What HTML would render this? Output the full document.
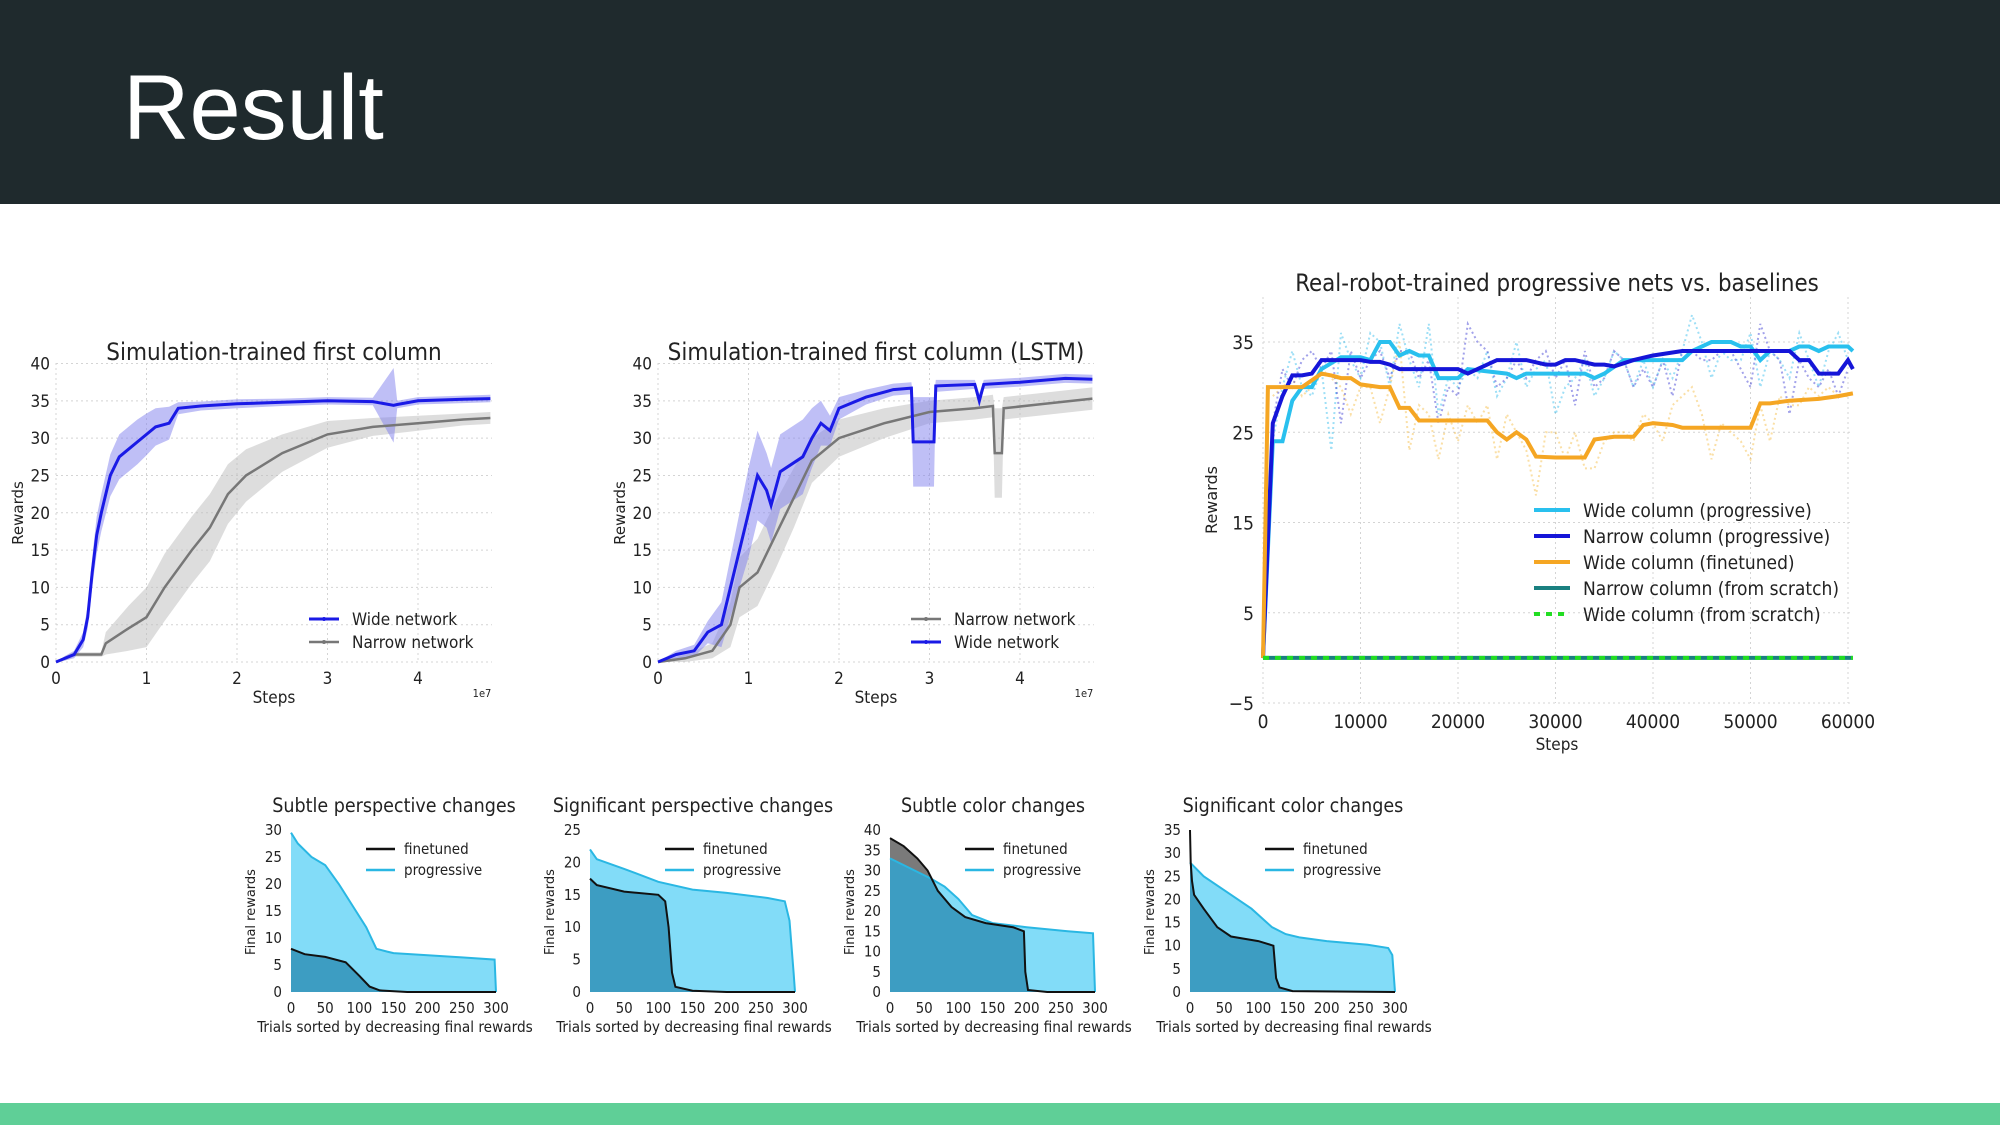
<!DOCTYPE html>
<html><head><meta charset="utf-8">
<style>
html,body{margin:0;padding:0;width:2000px;height:1125px;overflow:hidden;background:#fff;font-family:"DejaVu Sans Condensed","DejaVu Sans","Liberation Sans",sans-serif;}
#hdr{position:absolute;left:0;top:0;width:2000px;height:204px;background:#1f2a2d;}
#ttl{position:absolute;left:123px;top:56px;font-family:"Liberation Sans",sans-serif;font-size:92px;color:#fff;font-weight:normal;}
#foot{position:absolute;left:0;top:1103px;width:2000px;height:22px;background:#5fcf97;}
svg{position:absolute;left:0;top:0;}
</style></head><body>
<div id="hdr"><div id="ttl">Result</div></div>
<div id="foot"></div>
<svg id="svg" width="2000" height="1125"></svg>
<script>
// ---------- chart 1 data (x in 1e7 steps) ----------
const c1WideX=[0,0.1,0.2,0.3,0.35,0.4,0.45,0.5,0.6,0.7,0.8,0.9,1.0,1.1,1.25,1.35,1.6,2,2.5,3,3.5,3.73,3.77,4,4.5,4.8];
const c1WideY=[0,0.5,1,3,6,12,17,20,25,27.5,28.5,29.5,30.5,31.5,32,34,34.3,34.6,34.8,35,34.9,34.4,34.5,35,35.2,35.3];
const c1WideS=[0,0.3,0.5,1,1.5,2,2.5,2.5,2.8,3,3,3,2.8,2.5,2.2,0.8,0.6,0.6,0.5,0.5,0.5,5,0.5,0.5,0.5,0.5];
const c1NarX=[0,0.1,0.2,0.5,0.55,0.8,1,1.2,1.5,1.7,1.9,2.1,2.5,3,3.5,4,4.5,4.8];
const c1NarY=[0,0.5,1,1,2.5,4.5,6,10,15,18,22.5,25,28,30.5,31.5,32,32.5,32.7];
const c1NarS=[0,0.3,0.3,0.3,1.5,3,4,4.5,4.5,4.5,4,3.5,2.5,1.8,1.2,1,0.8,0.8];
// ---------- chart 2 data ----------
const c2WideX=[0,0.2,0.4,0.55,0.7,0.9,1,1.1,1.2,1.25,1.35,1.6,1.7,1.8,1.9,2,2.3,2.6,2.8,2.82,3.05,3.07,3.5,3.55,3.6,4,4.5,4.8];
const c2WideY=[0,1,1.5,4,5,15,20,25,23,21,25.5,27.5,30,32,31,34,35.5,36.5,36.7,29.5,29.5,37,37.2,35,37.2,37.5,38,37.9];
const c2WideS=[0,0.5,0.8,1.5,3,5,6,6,5,5,5,5,4,3,2,1.5,1,0.8,0.8,6,6,0.8,0.6,1,0.6,0.6,0.6,0.6];
const c2NarX=[0,0.3,0.6,0.8,0.9,1.1,1.3,1.5,1.7,2,2.5,3,3.5,3.7,3.72,3.8,3.82,4.2,4.8];
const c2NarY=[0,0.5,1.5,5,10,12,17,22,27,30,32,33.5,34,34.3,28,28,34,34.5,35.3];
const c2NarS=[0,0.5,1,3,4,4.5,4.5,4,3,2.5,2,1.5,1.5,1.5,6,6,1.5,1.5,1.5];
// ---------- chart 3 data ----------
const c3WideX=[0,1000,2000,3000,4000,5000,6000,8000,10000,11000,12000,13000,14000,15000,16000,17000,18000,20000,21000,25000,26000,27000,33000,34000,35000,37000,40000,43000,44000,46000,48000,49000,50000,51000,52000,54000,55000,56000,57000,58000,60000,60500];
const c3WideY=[0,24,24,28.5,30,30,32,33.3,33.3,33,35,35,33.5,34,33.5,33.5,31,31,32,31.5,31,31.5,31.5,31,31.5,33,33,33,34,35,35,34.5,34.5,33,34,34,34.5,34.5,34,34.5,34.5,34];
const c3NarX=[0,1000,2000,3000,4000,5000,6000,10000,11000,12000,13000,14000,20000,21000,22000,24000,27000,29000,30000,31000,32000,34000,35000,36000,38000,40000,43000,50000,54000,55000,56000,57000,59000,60000,60500];
const c3NarY=[0,26,29,31.3,31.3,31.5,33,33,32.8,32.8,32.5,32,32,31.5,32,33,33,32.5,32.5,33,33,32.5,32.5,32.3,33,33.5,34,34,34,33,33,31.5,31.5,33,32];
const c3FinX=[0,500,2000,4000,6000,7000,8000,9000,10000,12000,13000,14000,15000,16000,23000,24000,25000,26000,27000,28000,30000,33000,34000,36000,38000,39000,40000,42000,43000,50000,51000,52000,54000,57000,59000,60500];
const c3FinY=[0,30,30,30,31.5,31.3,31,31,30.3,30,30,27.7,27.7,26.3,26.3,25,24.2,25,24.2,22.3,22.2,22.2,24.2,24.5,24.5,25.8,26,25.8,25.5,25.5,28.2,28.2,28.5,28.7,29,29.3];
const c3RawX=[1000,2000,3000,4000,5000,6000,7000,8000,9000,10000,11000,12000,13000,14000,15000,16000,17000,18000,19000,20000,21000,22000,23000,24000,25000,26000,27000,28000,29000,30000,31000,32000,33000,34000,35000,36000,37000,38000,39000,40000,41000,42000,43000,44000,45000,46000,47000,48000,49000,50000,51000,52000,53000,54000,55000,56000,57000,58000,59000,60000];
const c3RawWide=[24,30,34,30,29,32,23,36,33,31,36,35,30,37,33,30,37,27,31,30,32,31,34,29,31,35,30,32,33,27,30,31,33,29,31,34,33,30,33,30,33,31,34,38,35,31,34,33,33,36,30,34,33,31,36,33,30,34,36,33];
const c3RawNar=[26,32,30,33,34,32,34,26,34,31,33,34,31,34,34,31,33,26,30,29,37,35,34,30,31,33,31,33,34,31,33,28,34,30,31,34,33,30,32,30,33,29,34,34,33,33,34,34,32,30,37,34,33,27,33,31,30,32,29,32];
const c3RawFin=[29,30,31,29,30,32,31,30,27,30,30,26,30,35,23,28,27,22,27,24,28,26,28,22,27,25,23,18,25,25,22,25,21,21,24,25,25,24,27,26,24,28,29,30,27,22,26,25,24,22,28,24,29,28,28,30,29,30,29,29];
// ---------- bottom charts data (trial index 0..300) ----------
const bAProgX=[0,10,30,50,70,90,110,125,140,150,200,250,298,300];
const bAProgY=[29.5,27.5,25,23.5,20,16,12,8,7.5,7.2,6.8,6.4,6,0];
const bAFinX=[0,20,50,80,100,115,130,170,300];
const bAFinY=[8,7,6.5,5.5,3,1,0.3,0,0];
const bBProgX=[0,10,50,100,150,200,260,285,292,298,300];
const bBProgY=[22,20.5,19,17,15.8,15.3,14.5,14,11,3,0];
const bBFinX=[0,10,50,100,110,115,120,125,150,200,300];
const bBFinY=[17.5,16.5,15.5,15,14,10,3,0.8,0.2,0,0];
const bCProgX=[0,30,60,80,100,120,150,200,260,297,300];
const bCProgY=[33,30.5,28,26,23,19,17,16,15,14.5,0];
const bCFinX=[0,20,40,55,70,90,110,140,180,196,198,202,230,300];
const bCFinY=[38,36,33,30,25,21,18.5,17,16,15,5,0.5,0,0];
const bDProgX=[0,20,50,90,120,140,160,200,260,290,296,300];
const bDProgY=[28,25,22,18,14,12.5,11.8,11,10.2,9.5,8,0];
const bDFinX=[0,1,3,6,20,40,60,100,122,126,131,150,300];
const bDFinY=[35,28,24,21,18,14,12,11,10,3,1,0.2,0];
const c1YTicks=[0,5,10,15,20,25,30,35,40];
const c1XTicks=[0,1,2,3,4];
const c3YTicks=[-5,5,15,25,35];
const c3XTicks=[0,10000,20000,30000,40000,50000,60000];
const bXTicks=[0,50,100,150,200,250,300];

const NS='http://www.w3.org/2000/svg';
const svg=document.getElementById('svg');
function el(tag,attrs,parent){const e=document.createElementNS(NS,tag);for(const k in attrs)e.setAttribute(k,attrs[k]);(parent||svg).appendChild(e);return e;}
function txt(s,x,y,size,anchor,parent,fill,family){const t=el('text',{x:x,y:y,'font-size':size,'text-anchor':anchor||'middle',fill:fill||'#222'},parent);if(family)t.setAttribute('font-family',family);t.textContent=s;return t;}
function lin(a0,a1,p0,p1){return v=>p0+(v-a0)*(p1-p0)/(a1-a0);}
function pathD(xs,ys,sx,sy){return xs.map((x,i)=>(i?'L':'M')+sx(x).toFixed(1)+','+sy(ys[i]).toFixed(1)).join('');}
function bandD(xs,ys,ss,sx,sy){let d='';xs.forEach((x,i)=>{d+=(i?'L':'M')+sx(x).toFixed(1)+','+sy(ys[i]+ss[i]).toFixed(1);});for(let i=xs.length-1;i>=0;i--)d+='L'+sx(xs[i]).toFixed(1)+','+sy(Math.max(0,ys[i]-ss[i])).toFixed(1);return d+'Z';}
function areaD(xs,ys,sx,sy){return pathD(xs,ys,sx,sy)+'L'+sx(xs[xs.length-1]).toFixed(1)+','+sy(0).toFixed(1)+'L'+sx(xs[0]).toFixed(1)+','+sy(0).toFixed(1)+'Z';}

// ===== Chart 1 & 2 =====
function simChart(name,ox,title,series,legendOrder){
  const g=el('g',{});
  
  
  const sx=lin(0,1,ox,ox+90.5), sy=lin(0,40,662,363.5);
  const right=ox+436;
  c1YTicks.forEach(v=>{const l=el('line',{x1:ox,x2:right,y1:sy(v),y2:sy(v),stroke:'#d4d4d4','stroke-dasharray':'2,3'},g);
    const t=txt(String(v),ox-6,sy(v)+6,17,'end',g);});
  c1XTicks.forEach(v=>{const l=el('line',{x1:sx(v),x2:sx(v),y1:363,y2:662,stroke:'#d4d4d4','stroke-dasharray':'2,3'},g);
    const t=txt(String(v),sx(v),684,17,'middle',g);});
  series.forEach(s=>{
    const b=el('path',{d:bandD(s.x,s.y,s.s,sx,sy),fill:s.band,'fill-opacity':0.5,stroke:'none'},g);
    
  });
  series.forEach(s=>{
    const p=el('path',{d:pathD(s.x,s.y,sx,sy),fill:'none',stroke:s.col,'stroke-width':s.w},g);
    
  });
  const tt=txt(title,ox+218,360,24,'middle',g);
  const yl=txt('Rewards',0,0,15,'middle',g,'#222','DejaVu Sans');yl.setAttribute('transform','translate('+(ox-33)+',513) rotate(-90)');
  const xl=txt('Steps',ox+218,703,17,'middle',g);
  const ex=txt('1e7',ox+426,697,11,'middle',g);
  legendOrder.forEach((s,i)=>{
    const y=619+i*23;
    const lg=el('g',{},g);
    el('line',{x1:ox+253,x2:ox+283,y1:y,y2:y,stroke:s.col,'stroke-width':s.w},lg);
    el('circle',{cx:ox+268,cy:y,r:2,fill:s.col},lg);
    txt(s.label,ox+296,y+6,17,'start',lg);
  });
}
const c1w={key:'wide-network',x:c1WideX,y:c1WideY,s:c1WideS,col:'#1a1ae6',band:'#8080ee',w:3,label:'Wide network'};
const c1n={key:'narrow-network',x:c1NarX,y:c1NarY,s:c1NarS,col:'#777',band:'#bbb',w:2.5,label:'Narrow network'};
simChart('chart-simulation-first-column',56,'Simulation-trained first column',[c1n,c1w],[c1w,c1n]);
const c2w={key:'wide-network',x:c2WideX,y:c2WideY,s:c2WideS,col:'#1a1ae6',band:'#8080ee',w:3,label:'Wide network'};
const c2n={key:'narrow-network',x:c2NarX,y:c2NarY,s:c2NarS,col:'#777',band:'#bbb',w:2.5,label:'Narrow network'};
simChart('chart-simulation-lstm',658,'Simulation-trained first column (LSTM)',[c2n,c2w],[c2n,c2w]);

// ===== Chart 3 =====
(function(){
  const g=el('g',{});
  
  
  const sx=lin(0,60000,1263,1848), sy=lin(-5,35,703,342);
  c3YTicks.forEach(v=>{const l=el('line',{x1:1263,x2:1853,y1:sy(v),y2:sy(v),stroke:'#d4d4d4','stroke-dasharray':'2,3'},g);
    const t=txt(v<0?'\u2212'+(-v):String(v),1254,sy(v)+7,19,'end',g);});
  c3XTicks.forEach(v=>{const l=el('line',{x1:sx(v),x2:sx(v),y1:297,y2:703,stroke:'#d4d4d4','stroke-dasharray':'2,3'},g);
    const t=txt(String(v),sx(v),728,19,'middle',g);});
  [[c3RawFin,'#f5b73a','raw-finetuned'],[c3RawWide,'#29b9ea','raw-wide-progressive'],[c3RawNar,'#3030d0','raw-narrow-progressive']].forEach(r=>{
    const p=el('path',{d:pathD(c3RawX,r[0],sx,sy),fill:'none',stroke:r[1],'stroke-width':2,'stroke-dasharray':'2,3','stroke-opacity':0.45},g);
    
  });
  const series=[
    {key:'wide-column-progressive',x:c3WideX,y:c3WideY,col:'#29c0ee',label:'Wide column (progressive)',dash:null},
    {key:'narrow-column-progressive',x:c3NarX,y:c3NarY,col:'#1515d8',label:'Narrow column (progressive)',dash:null},
    {key:'wide-column-finetuned',x:c3FinX,y:c3FinY,col:'#f5a623',label:'Wide column (finetuned)',dash:null},
    {key:'narrow-column-scratch',x:[0,60500],y:[0,0],col:'#1a8080',label:'Narrow column (from scratch)',dash:null},
    {key:'wide-column-scratch',x:[0,60500],y:[0,0],col:'#22dd22',label:'Wide column (from scratch)',dash:'6,6'}
  ];
  series.forEach(s=>{
    const p=el('path',{d:pathD(s.x,s.y,sx,sy),fill:'none',stroke:s.col,'stroke-width':4},g);
    if(s.dash)p.setAttribute('stroke-dasharray',s.dash);
    
  });
  series.forEach((s,i)=>{
    const y=510+i*26;
    const lg=el('g',{},g);
    const l=el('line',{x1:1534,x2:1570,y1:y,y2:y,stroke:s.col,'stroke-width':4},lg);
    if(s.dash)l.setAttribute('stroke-dasharray','6,6');
    txt(s.label,1583,y+7,19,'start',lg);
  });
  const tt=txt('Real-robot-trained progressive nets vs. baselines',1557,291,23.8,'middle',g);
  const yl=txt('Rewards',0,0,16,'middle',g,'#222','DejaVu Sans');yl.setAttribute('transform','translate(1217,500) rotate(-90)');
  const xl=txt('Steps',1557,750,17,'middle',g);
})();

// ===== Bottom charts =====
function smallChart(name,ox,ymax,yStep,title,px,py,fx,fy,idx){
  const g=el('g',{});
  
  
  const sx=lin(0,300,ox,ox+205), sy=lin(0,ymax,992,830);
  const cid='clip'+idx;
  const cp=el('clipPath',{id:cid},g);
  el('path',{d:areaD(px,py,sx,sy)},cp);
  const a1=el('path',{d:areaD(px,py,sx,sy),fill:'#82dcf8',stroke:'none'},g);
  const a2=el('path',{d:areaD(fx,fy,sx,sy),fill:'#7a7a7a',stroke:'none'},g);
  const a3=el('path',{d:areaD(fx,fy,sx,sy),fill:'#3d9dc2',stroke:'none','clip-path':'url(#'+cid+')'},g);
  const l1=el('path',{d:pathD(px,py,sx,sy),fill:'none',stroke:'#2ab7e3','stroke-width':2},g);
  const l2=el('path',{d:pathD(fx,fy,sx,sy),fill:'none',stroke:'#111','stroke-width':2},g);
  for(let v=0;v<=ymax;v+=yStep){const t=txt(String(v),ox-9,sy(v)+5,15,'end',g);}
  bXTicks.forEach(v=>{const t=txt(String(v),sx(v),1013,15,'middle',g);});
  const tt=txt(title,ox+103,812,19.5,'middle',g);
  const xl=txt('Trials sorted by decreasing final rewards',ox+104,1032,15.2,'middle',g);
  const yl=txt('Final rewards',0,0,13,'middle',g,'#222','DejaVu Sans');yl.setAttribute('transform','translate('+(ox-36)+',912) rotate(-90)');
  [['finetuned','#111'],['progressive','#2ab7e3']].forEach((e,i)=>{
    const y=849+i*21;
    const lg=el('g',{},g);
    el('line',{x1:ox+75,x2:ox+104,y1:y,y2:y,stroke:e[1],'stroke-width':2.5},lg);
    txt(e[0],ox+113,y+5,15,'start',lg);
  });
}
smallChart('chart-subtle-perspective',291,30,5,'Subtle perspective changes',bAProgX,bAProgY,bAFinX,bAFinY,1);
smallChart('chart-significant-perspective',590,25,5,'Significant perspective changes',bBProgX,bBProgY,bBFinX,bBFinY,2);
smallChart('chart-subtle-color',890,40,5,'Subtle color changes',bCProgX,bCProgY,bCFinX,bCFinY,3);
smallChart('chart-significant-color',1190,35,5,'Significant color changes',bDProgX,bDProgY,bDFinX,bDFinY,4);
</script>
</body></html>
